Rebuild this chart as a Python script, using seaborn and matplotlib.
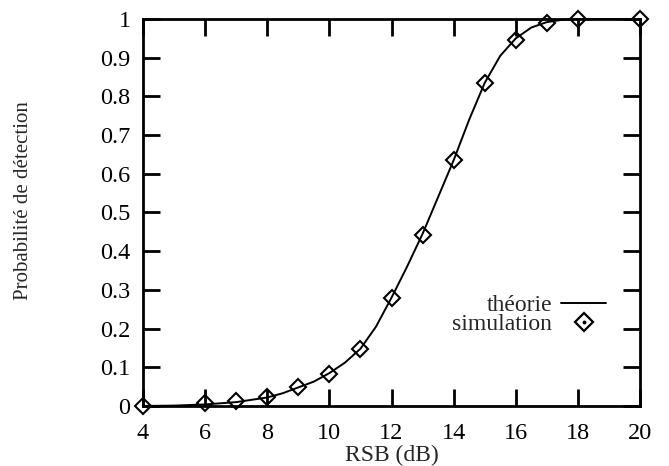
import matplotlib
matplotlib.use("Agg")
import matplotlib.pyplot as plt
from matplotlib.lines import Line2D
import seaborn as sns
import pandas as pd


# -----------------------------
# Data
# -----------------------------

theory_snr = [4, 5, 6, 7, 8, 8.5, 9, 9.5, 10, 10.5, 11, 11.5, 12, 12.5,
              13, 13.5, 14, 14.5, 15, 15.5, 16, 16.5, 17, 17.5, 18, 19, 20]
theory_pd = [0.0, 0.001, 0.004, 0.01, 0.022, 0.033, 0.048, 0.063, 0.085,
             0.112, 0.148, 0.205, 0.28, 0.36, 0.445, 0.54, 0.635, 0.74,
             0.835, 0.905, 0.95, 0.978, 0.992, 0.998, 1.0, 1.0, 1.0]

sim_snr = [4, 6, 7, 8, 9, 10, 11, 12, 13, 14, 15, 16, 17, 18, 20]
sim_pd = [0.0, 0.008, 0.013, 0.023, 0.049, 0.083, 0.147, 0.279, 0.442,
          0.636, 0.835, 0.946, 0.99, 1.0, 1.0]

x_ticks = [4, 6, 8, 10, 12, 14, 16, 18, 20]
y_ticks = [0, 0.1, 0.2, 0.3, 0.4, 0.5, 0.6, 0.7, 0.8, 0.9, 1]
y_labels = ["0", "0.1", "0.2", "0.3", "0.4", "0.5", "0.6", "0.7", "0.8", "0.9", "1"]

theory = pd.DataFrame({"snr": theory_snr, "pd": theory_pd})
sim = pd.DataFrame({"snr": sim_snr, "pd": sim_pd})


# -----------------------------
# Style
# -----------------------------

sns.set_style("ticks")
plt.rcParams["font.family"] = ["Liberation Serif", "DejaVu Serif"]
plt.rcParams["font.size"] = 17.5


# -----------------------------
# Plot
# -----------------------------

fig = plt.figure(figsize=(6.69, 4.66), dpi=100)
ax = fig.add_axes([0.2138, 0.1288, 0.7429, 0.8304])

sns.lineplot(
    data=theory, x="snr", y="pd", ax=ax,
    color="black", linewidth=1.4, legend=False
)

sns.lineplot(
    data=sim, x="snr", y="pd", ax=ax,
    color="black", linestyle="none", marker="D", markersize=8.5,
    markerfacecolor="none", markeredgecolor="black", markeredgewidth=1.5,
    legend=False
)

for line in ax.lines:
    line.set_clip_on(False)

ax.set_xlim(4, 20)
ax.set_ylim(0, 1)
ax.set_xticks(x_ticks)
ax.set_yticks(y_ticks)
ax.set_yticklabels(y_labels)

for side in ["top", "bottom", "left", "right"]:
    ax.spines[side].set_linewidth(2)
    ax.spines[side].set_color("black")

ax.tick_params(axis="both", direction="in", length=12, width=2,
               top=True, right=True, labelsize=17.5, colors="black")
ax.tick_params(axis="x", pad=12)
ax.tick_params(axis="y", pad=9)

ax.set_xlabel("RSB (dB)", fontsize=17)
ax.set_ylabel("Probabilité de détection", fontsize=15)
ax.xaxis.set_label_coords(0.5, -0.1)
ax.yaxis.set_label_coords(-0.221, 0.53)


# legend: text first, diamond with a centre dot
theory_handle = Line2D([], [], color="black", linewidth=1.4)
sim_diamond = Line2D([], [], linestyle="none", marker="D", markersize=9,
                     markerfacecolor="none", markeredgecolor="black",
                     markeredgewidth=1.6)
sim_dot = Line2D([], [], linestyle="none", marker="o", markersize=1.8,
                 color="black")

ax.legend(
    [theory_handle, (sim_diamond, sim_dot)],
    ["théorie", "simulation"],
    loc="upper right", bbox_to_anchor=(0.975, 0.343),
    frameon=False, markerfirst=False, handlelength=1.9,
    labelspacing=-0.1, handletextpad=0.4, fontsize=17
)

fig.savefig("out.png", dpi=100)
